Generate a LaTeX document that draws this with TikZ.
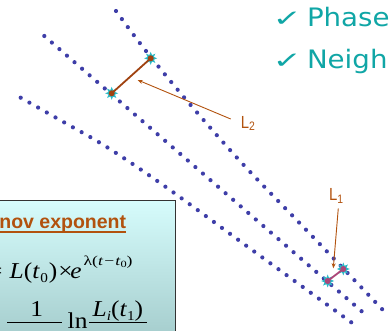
\documentclass[tikz,border=0pt]{standalone}
\usepackage{fontspec}
\usepackage{graphicx}
\setmainfont{Liberation Serif}
\newfontfamily\wideserif[FakeStretch=1.12]{Liberation Serif}
\newfontfamily\supserif[FakeStretch=1.3]{Liberation Serif}
\newfontfamily\sansf{Liberation Sans}
\newfontfamily\dejavu{DejaVu Sans}
\usetikzlibrary{arrows.meta,shapes.geometric}
\definecolor{dotblue}{RGB}{62,62,168}
\definecolor{tealtxt}{RGB}{16,166,166}
\definecolor{brownL}{RGB}{178,82,14}
\definecolor{brownC}{RGB}{160,66,16}
\definecolor{magL}{RGB}{172,70,120}
\definecolor{starcyan}{RGB}{40,186,198}
\definecolor{boxtop}{RGB}{214,252,252}
\definecolor{boxbot}{RGB}{164,204,204}
\begin{document}
\begin{tikzpicture}[x=1pt,y=-1pt,
  dotline/.style={draw=dotblue, line width=4.2pt, line cap=round, dash pattern=on 0pt off 10pt},
  starmark/.style={shape=star, star points=8, star point ratio=1.9, minimum size=13pt, inner sep=0pt, fill=starcyan},
  ctr/.style={circle, inner sep=0pt, minimum size=6pt, fill=#1},
  lbl/.style={inner sep=0pt, anchor=base west, text=brownL, font=\sansf\fontsize{17.5}{18}\selectfont},
  leader/.style={draw=brownL, line width=0.9pt, -{Stealth[length=5pt,width=4pt]}},
  mathtxt/.style={inner sep=0pt, anchor=base west, font=\wideserif\fontsize{22.7}{24}\selectfont},
  bullet/.style={inner sep=0pt, anchor=base west, text=tealtxt, font=\dejavu\fontsize{25.4}{26}\selectfont},
  check/.style={inner sep=0pt, anchor=base west, text=tealtxt, font=\dejavu\fontsize{27}{27}\selectfont},
  fracbar/.style={draw=black, line width=1pt}]
\useasboundingbox (0,0) rectangle (389,331);
\clip (0,0) rectangle (389,331);

% dotted trajectories
\draw[dotline] plot[smooth, tension=0.6] coordinates {(116,11) (146,51) (190,104.3) (242.3,163.5) (297.3,220.7) (338.3,263.3) (386.7,314)};
\draw[dotline] (44.3,36) -- (366.3,315.3);
\draw[dotline] plot[smooth, tension=0.6] coordinates {(20.7,97.7) (64,122.3) (106.7,147) (164,185.7) (244.3,244.3) (292.3,279.3) (356.3,326)};

% separation L2
\node[starmark] (sA2) at (150.7,58.3) {};
\node[starmark] (sB2) at (111.7,93.3) {};
\draw[brownC, line width=1.8pt] (sB2.center) -- (sA2.center);
\node[ctr=brownC] at (sA2.center) {};
\node[ctr=brownC] at (sB2.center) {};

% separation L1
\node[starmark] (sA1) at (343.3,269) {};
\node[starmark] (sB1) at (327.7,281) {};
\draw[magL, line width=1.8pt] (sB1.center) -- (sA1.center);
\node[ctr=magL] at (sA1.center) {};
\node[ctr=magL] at (sB1.center) {};

% labels and leaders
\node[lbl] (L2) at (240.6,128.3) {\scalebox{0.85}[1]{L\textsubscript{2}}};
\coordinate (l2s) at (230.7,119);
\coordinate (l2t) at (137.7,80);
\draw[leader] (l2s) -- (l2t);

\node[lbl] (L1) at (329,200.7) {\scalebox{0.85}[1]{L\textsubscript{1}}};
\coordinate (l1s) at (338.3,208.3);
\coordinate (l1t) at (333.3,268.3);
\draw[leader] (l1s) -- (l1t);

% top right bullets
\node[check] (c1) at (272.5,26.5) {\scalebox{1.3}[0.85]{✓}};
\node[bullet] (b1) at (306.8,26.5) {\scalebox{1.09}[1]{Phase}};
\node[check] (c2) at (272.5,68.3) {\scalebox{1.3}[0.85]{✓}};
\node[bullet] (b2) at (306.8,68.3) {\scalebox{1.09}[1]{Neigh}};

% formula box
\shade[top color=boxtop, bottom color=boxbot] (-3,200.7) rectangle (175.7,340);
\draw[draw=black!80, line width=0.9pt] (-3,200.7) rectangle (175.7,340);

\node[inner sep=0pt, anchor=base west, text=brownL, font=\sansf\bfseries\fontsize{19.5}{20}\selectfont] (ttl) at (-0.8,229) {nov exponent};
\draw[brownL, line width=1.4pt] (0,232) -- (126,232);

\node[mathtxt, anchor=base east] (eq) at (2.6,278.3) {=};
\node[mathtxt] (m1) at (9.5,278.3) {\textit{L}(\textit{t}\kern0.5pt\raisebox{-4pt}{\fontsize{13.6}{14}\selectfont 0}\kern1pt)\kern1pt×\kern-2.5pt\textit{e}\kern2pt\raisebox{13pt}{\supserif\fontsize{13.6}{14}\selectfont λ(\textit{t}\kern1pt−\kern1pt\textit{t}\raisebox{-2.5pt}{\fontsize{9.5}{10}\selectfont 0})}};

\node[mathtxt, anchor=base] (one) at (36.7,316.5) {1};
\draw[fracbar] (7.3,323) -- (61.7,323);
\node[mathtxt] (ln) at (67.5,329) {ln};
\node[mathtxt] (num) at (92.5,316.5) {\textit{L}\raisebox{-4pt}{\fontsize{13.6}{14}\selectfont\textit{i}}(\textit{t}\raisebox{-4pt}{\fontsize{13.6}{14}\selectfont 1})};
\draw[fracbar] (89.3,323) -- (146.7,323);
\end{tikzpicture}
\end{document}
